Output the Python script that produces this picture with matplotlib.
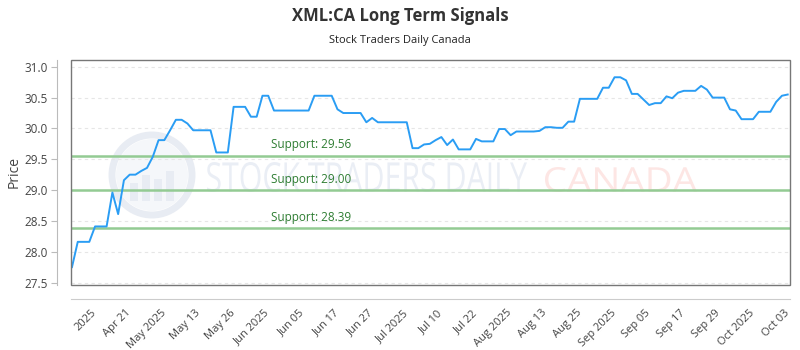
import matplotlib
matplotlib.use("Agg")
import matplotlib.pyplot as plt
from matplotlib.textpath import TextPath
from matplotlib.patches import PathPatch, Circle, Rectangle
from matplotlib.font_manager import FontProperties
from matplotlib.transforms import Affine2D
import numpy as np

title = "XML:CA Long Term Signals"
subtitle = "Stock Traders Daily Canada"

prices = [27.75, 28.16, 28.16, 28.16, 28.41, 28.41, 28.41, 28.96, 28.61, 29.16,
          29.25, 29.25, 29.31, 29.36, 29.54, 29.81, 29.81, 29.97, 30.14, 30.14,
          30.08, 29.97, 29.97, 29.97, 29.97, 29.61, 29.61, 29.61, 30.35, 30.35,
          30.35, 30.19, 30.19, 30.53, 30.53, 30.29, 30.29, 30.29, 30.29, 30.29,
          30.29, 30.29, 30.53, 30.53, 30.53, 30.53, 30.31, 30.25, 30.25, 30.25,
          30.25, 30.10, 30.17, 30.10, 30.10, 30.10, 30.10, 30.10, 30.10, 29.68,
          29.68, 29.74, 29.75, 29.81, 29.86, 29.73, 29.82, 29.66, 29.66, 29.66,
          29.83, 29.79, 29.79, 29.79, 29.99, 29.99, 29.89, 29.95, 29.95, 29.95,
          29.95, 29.96, 30.02, 30.02, 30.01, 30.01, 30.11, 30.11, 30.48, 30.48,
          30.48, 30.48, 30.66, 30.66, 30.83, 30.83, 30.78, 30.56, 30.56, 30.47,
          30.38, 30.41, 30.41, 30.52, 30.49, 30.58, 30.61, 30.61, 30.61, 30.69,
          30.63, 30.50, 30.50, 30.50, 30.31, 30.29, 30.15, 30.15, 30.15, 30.27,
          30.27, 30.27, 30.43, 30.53, 30.55]

tick_labels = ["2025", "Apr 21", "May 2025", "May 13", "May 26", "Jun 2025",
               "Jun 05", "Jun 17", "Jun 27", "Jul 2025", "Jul 10", "Jul 22",
               "Aug 2025", "Aug 13", "Aug 25", "Sep 2025", "Sep 05", "Sep 17",
               "Sep 29", "Oct 2025", "Oct 03"]

support_levels = [29.56, 29.00, 28.39]
y_ticks = [27.5, 28.0, 28.5, 29.0, 29.5, 30.0, 30.5, 31.0]

FONT = ["Open Sans", "DejaVu Sans"]
plt.rcParams["font.family"] = FONT

W, H = 800, 350
fig = plt.figure(figsize=(W / 100, H / 100), dpi=100, facecolor="white")
ax = fig.add_axes([71 / W, 1 - 285 / H, (790 - 71) / W, (285 - 60) / H])
ax.set_facecolor("none")

x = np.arange(len(prices))
ax.set_xlim(-0.17, 124.4)
ax.set_ylim(27.46, 31.11)

# grid
for yt in y_ticks:
    ax.axhline(yt, color="#e6e6e6", lw=0.8, ls=(0, (3, 3)), zorder=0)

# watermark (behind the axes)
def add_text_path(s, x0, x1, ybot, ytop, color):
    tp = TextPath((0, 0), s, size=100, prop=FontProperties(family="Open Sans"))
    ext = tp.get_extents()
    sx = (x1 - x0) / ext.width
    sy = (ytop - ybot) / ext.height
    tr = Affine2D().translate(-ext.x0, -ext.y0).scale(sx, sy).translate(x0, H - ytop)
    fig.add_artist(PathPatch(tp, transform=tr, color=color, lw=0, zorder=-5))

add_text_path("STOCK TRADERS DAILY", 207, 527, 162, 192, "#eaeef5")
add_text_path("CANADA", 545, 697, 167, 192, "#fde6e4")
cx, cy = 152, H - 175
fig.add_artist(Circle((cx, cy), 36, transform=None, fill=True, fc="#f5f7fa", ec="none", zorder=-6))
fig.add_artist(Circle((cx, cy), 40, transform=None, fill=False, ec="#e8ecf3", lw=5, zorder=-5))
for bx, bh in [(-22, 18), (-10, 26), (2, 22), (14, 30)]:
    fig.add_artist(Rectangle((cx + bx, cy - 26), 8, bh, transform=None, fc="#e8ecf3", ec="none", zorder=-5))

# support lines
for lvl in support_levels:
    ax.axhline(lvl, color="#93cb93", lw=1.8, zorder=2)
    ax.annotate(f"Support: {lvl:.2f}", xy=(271 / W, lvl), xycoords=("figure fraction", "data"),
                xytext=(0, 3), textcoords="offset points", ha="left", va="bottom",
                fontsize=8.5, color="#2e7d32", zorder=3)

ax.plot(x, prices, color="#2a9df4", lw=1.4, zorder=4)

# frame box
for s in ["top", "right"]:
    ax.spines[s].set_visible(False)
ax.add_patch(Rectangle((0, 0), 1, 1, transform=ax.transAxes, fill=False,
                       ec="#777777", lw=1.0, clip_on=False, zorder=5))
ax.spines["left"].set_position(("outward", 10))
ax.spines["bottom"].set_position(("outward", 10))
ax.spines["left"].set_color("#bbbbbb")
ax.spines["bottom"].set_color("#cccccc")

ax.set_yticks(y_ticks)
ax.set_yticklabels([f"{v:.1f}" for v in y_ticks], fontsize=8.5, color="#444444")
ax.tick_params(axis="y", length=4, color="#bbbbbb", pad=3)

tick_pos = np.arange(4, len(prices), 6)
ax.set_xticks(tick_pos)
ax.set_xticklabels(tick_labels, rotation=45, ha="right", va="center",
                   rotation_mode="anchor", fontsize=8, color="#444444")
ax.tick_params(axis="x", length=0, pad=9)

ax.set_ylabel("Price", fontsize=10, color="#444444", labelpad=2)

fig.text(0.5, 1 - 16 / H, title, ha="center", va="center", fontsize=12,
         fontweight="bold", color="#333333")
fig.text(0.5, 1 - 40 / H, subtitle, ha="center", va="center", fontsize=8,
         color="#222222")

fig.savefig("out.png", dpi=100)
